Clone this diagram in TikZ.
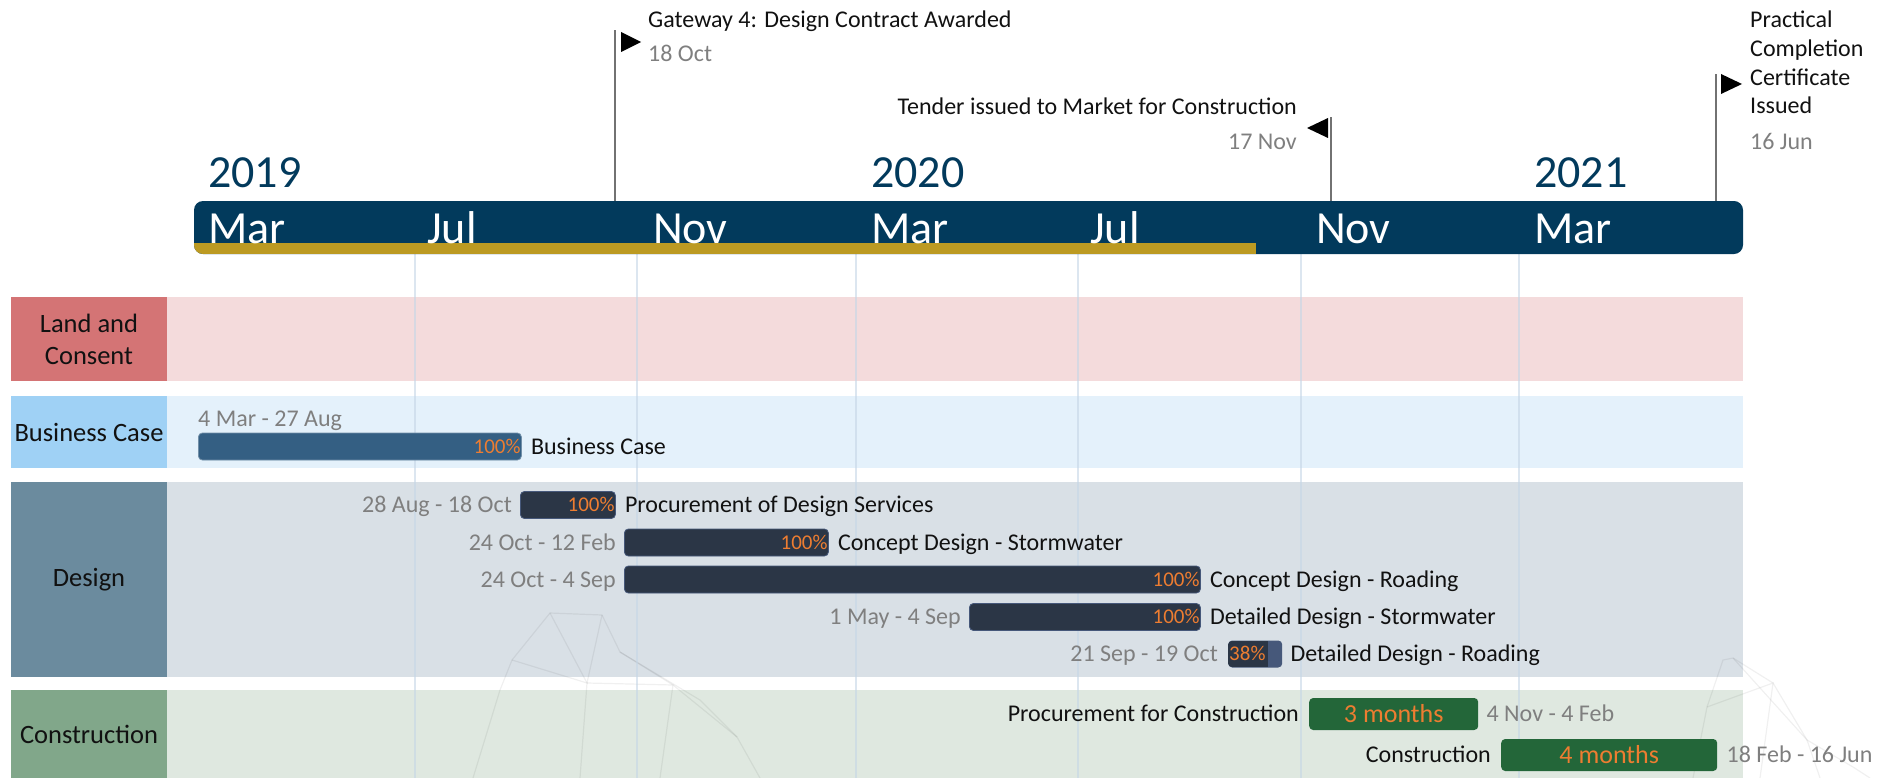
\documentclass[tikz,border=0pt]{standalone}
\usepackage{fontspec}
\setmainfont{Carlito}
\usetikzlibrary{positioning}

\definecolor{navy}{HTML}{023A5C}
\definecolor{gold}{HTML}{BC9A22}
\definecolor{landD}{HTML}{D47475}
\definecolor{landL}{HTML}{F4DBDC}
\definecolor{bizD}{HTML}{9FD1F5}
\definecolor{bizL}{HTML}{E4F1FB}
\definecolor{desD}{HTML}{6B8B9E}
\definecolor{desL}{HTML}{D9E0E6}
\definecolor{conD}{HTML}{81A78A}
\definecolor{conL}{HTML}{DFE8E0}
\definecolor{bcblue}{HTML}{345F83}
\definecolor{slate}{HTML}{2B3646}
\definecolor{slateL}{HTML}{46587A}
\definecolor{forest}{HTML}{236639}
\definecolor{pctorange}{HTML}{ED7D31}
\definecolor{datec}{HTML}{7F7F7F}
\definecolor{gridc}{HTML}{C5D6E6}
\definecolor{inkc}{HTML}{111111}

\begin{document}
\begin{tikzpicture}[x=1pt,y=-1pt,
  txt/.style={inner sep=0pt, text=inkc, font=\fontsize{24}{29}\selectfont, text height=17pt, text depth=1.5pt},
  datetxt/.style={txt, text=datec},
  pcttxt/.style={inner sep=1pt, text=pctorange, font=\fontsize{21}{25}\selectfont, text height=14.5pt, text depth=1pt},
  lanebox/.style={inner sep=0pt, minimum width=156pt, align=center, text=inkc, font=\fontsize{26.5}{32}\selectfont},
  month/.style={inner sep=0pt, anchor=base west, text=white, font=\fontsize{46}{50}\selectfont},
  year/.style={month, text=navy},
  msline/.style={draw=datec!90!black, line width=2pt},
  poly/.style={draw=black, opacity=.06, line width=1.2pt},
  bar/.style={rounded corners=4pt, minimum height=27pt, inner sep=0pt, anchor=west},
  dbar/.style={bar, fill=slate, draw=slateL, line width=.8pt},
  gbar/.style={bar, fill=forest, minimum height=32pt, text=pctorange, font=\fontsize{26}{30}\selectfont}]
\useasboundingbox (0,0) rectangle (1886,778);

% swimlanes
\foreach \t/\b/\c in {297/381/land, 396/468/biz, 482/677/des, 690/778/con}
  \fill[\c L] (11,\t) rectangle (1743,\b);
\node[lanebox, fill=landD, minimum height=84pt] (land) at (89,339) {Land and\\Consent};
\node[lanebox, fill=bizD, minimum height=72pt] (biz) at (89,432) {Business Case};
\node[lanebox, fill=desD, minimum height=195pt] (des) at (89,579.5) {Design};
\node[lanebox, fill=conD, minimum height=88pt] (con) at (89,734) {Construction};

% faint backdrop
\draw[poly] (473,778) -- (500,690) -- (512,660) -- (550,613) -- (602,615) -- (620,652) -- (673,685) -- (737,737) -- (760,778);
\draw[poly] (512,660) -- (587,683) -- (602,615);
\draw[poly] (550,613) -- (587,683) -- (580,778);
\draw[poly] (587,683) -- (673,685) -- (660,778);
\draw[poly] (620,652) -- (700,700) -- (737,737);
\draw[poly] (1693,778) -- (1707,707) -- (1723,660) -- (1733,658) -- (1773,683) -- (1807,740) -- (1853,767) -- (1870,778);
\draw[poly] (1707,707) -- (1773,683) -- (1760,778);
\draw[poly] (1733,658) -- (1807,740) -- (1820,778);

\foreach \x in {415,637,856,1078,1301,1519}
  \draw[gridc, line width=2pt, opacity=.6] (\x,254) -- (\x,778);

% timeline
\fill[navy, rounded corners=9pt] (194,201) rectangle (1743,254);
\begin{scope}
  \clip[rounded corners=9pt] (194,201) rectangle (1743,254);
  \fill[gold] (194,243) rectangle (1256,254);
\end{scope}
\foreach \x/\m in {208/Mar,427/Jul,653/Nov,871/Mar,1090/Jul,1316/Nov,1534/Mar}
  \node[month] (m\x) at (\x,243) {\m};
\foreach \x/\yr in {208/2019,871/2020,1534/2021}
  \node[year] (y\yr) at (\x,188) {\yr};

% milestones
\coordinate (gw) at (615,30);
\draw[msline] (615,201) -- (gw);
\fill (621,32) -- (641,42) -- (621,52) -- cycle;
\node[txt, anchor=west] (gwlbl) at (648,20) {Gateway 4: Design Contract Awarded};
\node[datetxt, anchor=west] (gwdate) at (648,54) {18 Oct};

\coordinate (td) at (1331,117);
\draw[msline] (1331,201) -- (td);
\fill (1328,118) -- (1307,128) -- (1328,138) -- cycle;
\node[txt, anchor=east] (tdlbl) at (1297,107) {Tender issued to Market for Construction};
\node[datetxt, anchor=east] (tddate) at (1297,141.5) {17 Nov};

\coordinate (pc) at (1716,74);
\draw[msline] (1716,201) -- (pc);
\fill (1721,74) -- (1742,84) -- (1721,94) -- cycle;
\foreach \t [count=\i] in {Practical,Completion,Certificate,Issued}
  \node[txt, anchor=west] (pc\i) at (1750,{20+28.7*(\i-1)}) {\t};
\node[datetxt, anchor=west] (pcdate) at (1750,142) {16 Jun};

% tasks
\node[bar, fill=bcblue, draw=bcblue!70!white, line width=.8pt, minimum width=323pt] (bc) at (198,446.5) {};
\node[pcttxt, anchor=east] (bcpct) at (bc.east) {100\%};
\node[txt, right=9pt of bc] (bclbl) {Business Case};
\node[datetxt, above right=4pt and 0pt of bc.north west] (bcdate) {4 Mar - 27 Aug};

\foreach \n/\x/\w/\y/\task/\dates in {
  pds/520/95pt/505/Procurement of Design Services/28 Aug - 18 Oct,
  cds/624/204pt/542.5/Concept Design - Stormwater/24 Oct - 12 Feb,
  cdr/624/576pt/579.5/Concept Design - Roading/24 Oct - 4 Sep,
  dds/969/231pt/617/Detailed Design - Stormwater/1 May - 4 Sep} {
  \node[dbar, minimum width=\w] (\n) at (\x,\y) {};
  \node[pcttxt, anchor=east] (\n-pct) at (\n.east) {100\%};
  \node[txt, right=9pt of \n] (\n-lbl) {\task};
  \node[datetxt, left=8pt of \n] (\n-date) {\dates};
}

\node[bar, fill=slateL, minimum width=54pt] (ddr) at (1228,654) {};
\begin{scope}
  \clip[rounded corners=4pt] (1228,641) rectangle (1282,667);
  \fill[slate] (1228,641) rectangle (1268,667);
\end{scope}
\node[pcttxt, anchor=west] (ddr-pct) at (ddr.west) {38\%};
\node[txt, right=8pt of ddr] (ddr-lbl) {Detailed Design - Roading};
\node[datetxt, left=10pt of ddr] (ddr-date) {21 Sep - 19 Oct};

\node[gbar, minimum width=169pt] (pfc) at (1309,714) {3 months};
\node[txt, left=10pt of pfc] (pfc-lbl) {Procurement for Construction};
\node[datetxt, right=8pt of pfc] (pfc-date) {4 Nov - 4 Feb};

\node[gbar, minimum width=216pt] (cons) at (1501,755) {4 months};
\node[txt, left=10pt of cons] (cons-lbl) {Construction};
\node[datetxt, right=9pt of cons] (cons-date) {18 Feb - 16 Jun};
\end{tikzpicture}
\end{document}
